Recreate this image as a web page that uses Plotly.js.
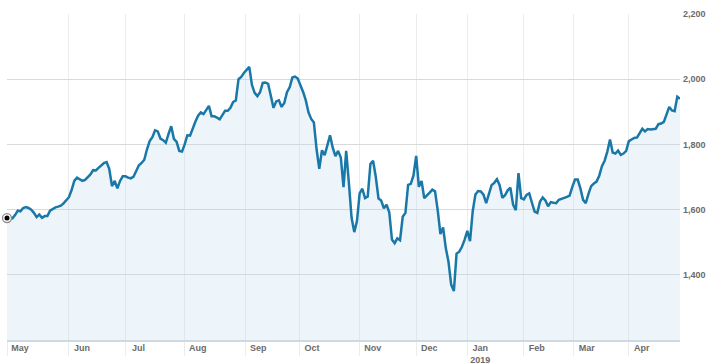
<!DOCTYPE html>
<html>
<head>
<meta charset="utf-8">
<script src="https://cdn.plot.ly/plotly-3.0.1.min.js"></script>
<style>
  html, body { margin: 0; padding: 0; background: #fff; }
  #chart { width: 712px; height: 364px; }
</style>
</head>
<body>
<div id="chart"></div>
<script>
// Daily closing values, one per trading day (Apr 30 2018 – Apr 29 2019)
const values = [
  1574,1571,1573,1583,1597,1595,1605,1608,1605,1600,
  1590,1577,1585,1575,1580,1580,1597,1603,1607,1609,
  1612,1619,1627,1638,1660,1688,1698,1694,1688,1691,
  1699,1708,1721,1720,1728,1735,1743,1746,1724,1672,
  1688,1665,1688,1702,1702,1698,1696,1701,1718,1736,
  1743,1753,1785,1810,1822,1843,1840,1818,1813,1805,
  1832,1856,1817,1808,1780,1778,1800,1828,1827,1850,
  1870,1888,1898,1893,1904,1918,1886,1886,1882,1877,
  1890,1903,1903,1912,1930,1935,2000,2007,2019,2028,
  2038,1982,1958,1948,1960,1989,1990,1986,1950,1912,
  1932,1935,1915,1927,1960,1975,2005,2008,2002,1984,
  1961,1935,1898,1878,1867,1785,1725,1782,1767,1797,
  1828,1790,1764,1780,1760,1669,1780,1682,1575,1531,
  1565,1650,1664,1635,1640,1740,1750,1700,1634,1628,
  1604,1615,1592,1508,1497,1512,1506,1578,1590,1676,
  1679,1705,1765,1670,1688,1635,1642,1652,1661,1656,
  1598,1525,1545,1482,1440,1370,1350,1465,1471,1486,
  1508,1535,1503,1595,1646,1657,1656,1646,1620,1645,
  1675,1682,1693,1675,1636,1644,1659,1667,1615,1598,
  1712,1635,1631,1645,1650,1621,1594,1590,1625,1637,
  1628,1610,1623,1621,1620,1630,1634,1636,1639,1643,
  1670,1692,1692,1665,1630,1620,1648,1672,1680,1686,
  1704,1733,1750,1778,1815,1775,1772,1781,1768,1772,
  1780,1810,1815,1820,1821,1833,1848,1840,1847,1846,
  1846,1848,1862,1864,1869,1893,1915,1904,1902,1946,
  1940
];

// Month boundaries (trading-day index) and their labels
const monthStarts = [0, 23, 44, 66, 88.5, 108.5, 131, 152, 171, 192, 210.5, 231];
const monthLabels = ['May','Jun','Jul','Aug','Sep','Oct','Nov','Dec','Jan<br>2019','Feb','Mar','Apr'];

// Value axis ticks
const yTicks = [1400, 1600, 1800, 2000, 2200];
const yTickLabels = ['1,400', '1,600', '1,800', '2,000', '2,200'];

const days = values.map((v, i) => i);

const lineTrace = {
  x: days,
  y: values,
  type: 'scatter',
  mode: 'lines',
  line: { color: '#1a78a8', width: 2.5, shape: 'linear' },
  fill: 'tozeroy',
  fillcolor: 'rgba(190,215,235,0.26)',
  hoverinfo: 'skip'
};

const startRing = {
  x: [days[0]],
  y: [values[0]],
  type: 'scatter',
  mode: 'markers',
  marker: { size: 9, color: '#ffffff', line: { color: '#8a8a8a', width: 1.3 } },
  cliponaxis: false,
  hoverinfo: 'skip'
};

const startDot = {
  x: [days[0]],
  y: [values[0]],
  type: 'scatter',
  mode: 'markers',
  marker: { size: 5, color: '#000000' },
  cliponaxis: false,
  hoverinfo: 'skip'
};

const tickFont = { family: 'Liberation Sans, Arial, sans-serif', size: 9, color: '#6b6b6b', weight: 'bold' };

const layout = {
  width: 712,
  height: 364,
  margin: { l: 7, r: 32, t: 14, b: 24, pad: 0 },
  paper_bgcolor: '#ffffff',
  plot_bgcolor: '#ffffff',
  showlegend: false,
  xaxis: {
    type: 'linear',
    range: [0, values.length - 1],
    tickmode: 'array',
    tickvals: monthStarts,
    ticktext: monthLabels,
    showgrid: true,
    gridcolor: '#ececec',
    gridwidth: 1,
    zeroline: false,
    showline: true,
    linecolor: '#cfd9e1',
    linewidth: 1.5,
    ticks: 'outside',
    ticklen: 14,
    tickcolor: '#ececec',
    tickwidth: 1,
    ticklabelshift: 13,
    ticklabelstandoff: -15,
    tickfont: tickFont,
    fixedrange: true
  },
  yaxis: {
    type: 'linear',
    side: 'right',
    range: [1200, 2200],
    tickmode: 'array',
    tickvals: yTicks,
    ticktext: yTickLabels,
    showgrid: true,
    gridcolor: '#dadada',
    gridwidth: 1,
    zeroline: false,
    showline: false,
    ticks: '',
    ticklabelstandoff: 2,
    tickfont: tickFont,
    fixedrange: true
  }
};

Plotly.newPlot('chart', [lineTrace, startRing, startDot], layout, { staticPlot: true, displayModeBar: false });
</script>
</body>
</html>
